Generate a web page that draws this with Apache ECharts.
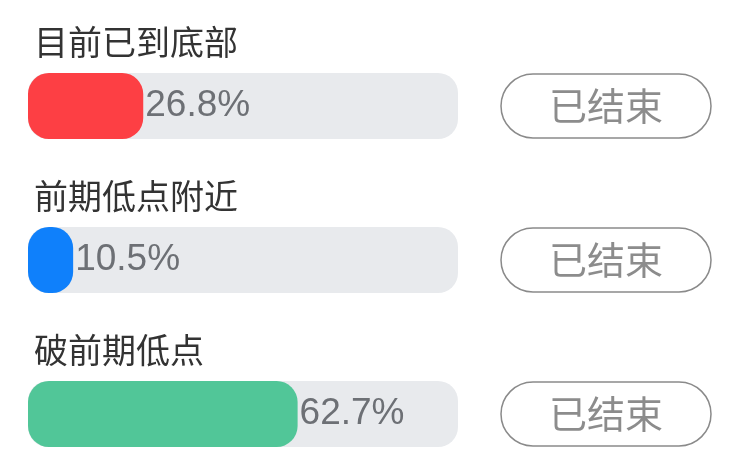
<!DOCTYPE html>
<html>
<head>
<meta charset="utf-8">
<script src="https://cdn.jsdelivr.net/npm/echarts@6/dist/echarts.min.js"></script>
<style>
  html, body { margin: 0; padding: 0; background: #fff; }
  #main { width: 738px; height: 457px; }
</style>
</head>
<body>
<div id="main"></div>
<script>
  // 数据
  var categories = ['目前已到底部', '前期低点附近', '破前期低点'];
  var values = [26.8, 10.5, 62.7];
  var barColors = ['#fd3f44', '#0f80fb', '#51c698'];
  var statusLabels = ['已结束', '已结束', '已结束'];

  var myChart = echarts.init(document.getElementById('main'));

  var option = {
    animation: false,
    grid: { left: 28, right: 280, top: 29, height: 462, containLabel: false, outerBoundsMode: 'none' },
    xAxis: {
      type: 'value', min: 0, max: 100,
      show: false
    },
    yAxis: [
      {
        type: 'category',
        data: categories,
        inverse: true,
        axisLine: { show: false },
        axisTick: { show: false },
        axisLabel: {
          inside: true,
          margin: 6,
          align: 'left',
          verticalAlign: 'bottom',
          padding: [0, 0, 47, 0],
          fontSize: 34,
          color: '#333',
          fontFamily: 'Noto Sans CJK SC'
        }
      },
      {
        type: 'category',
        data: statusLabels,
        inverse: true,
        position: 'right',
        axisLine: { show: false },
        axisTick: { show: false },
        axisLabel: {
          margin: 43,
          align: 'left',
          formatter: function (v) { return '{b|' + v + '}'; },
          rich: {
            b: {
              width: 210,
              height: 64,
              lineHeight: 64,
              align: 'center',
              fontSize: 38,
              color: '#8c8c8c',
              fontFamily: 'Noto Sans CJK SC',
              borderColor: '#8a8a8a',
              borderWidth: 1.5,
              borderRadius: 33
            }
          }
        }
      }
    ],
    series: [{
      type: 'bar',
      yAxisIndex: 0,
      data: values.map(function (v, i) {
        return { value: v, itemStyle: { color: barColors[i] } };
      }),
      barWidth: 66,
      showBackground: true,
      backgroundStyle: { color: '#e8eaed', borderRadius: 20 },
      itemStyle: { borderRadius: 21 },
      label: {
        show: true,
        position: 'right',
        distance: 2,
        formatter: '{c}%',
        fontSize: 37,
        color: '#6d7075',
        fontFamily: 'Liberation Sans'
      }
    }]
  };
  myChart.setOption(option);
</script>
</body>
</html>
